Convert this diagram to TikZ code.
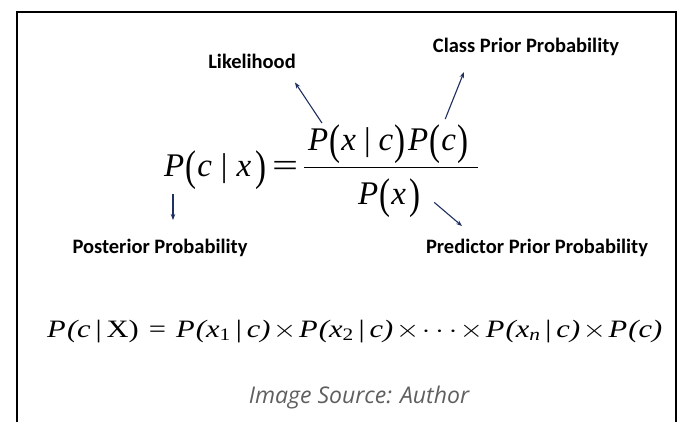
\documentclass[tikz,border=0pt]{standalone}
\usepackage{fontspec}
\usepackage{graphicx}
\setmainfont{Liberation Serif}
\newfontfamily\eqfont{Liberation Serif}
\newfontfamily\lblfont{Carlito}
\newfontfamily\srcfont{Open Sans}
\usetikzlibrary{arrows.meta,calc}
\definecolor{arrowblue}{HTML}{1F2F5F}
\definecolor{srcgray}{HTML}{5F5F5F}
\newcommand{\bp}[1]{\raisebox{-4pt}{\scalebox{1}[1.3]{\upshape#1}}}
\newcommand{\vb}{{\upshape|}}
\newcommand{\tms}{{\upshape$\times$}}
\tikzset{
  lbl/.style={font=\lblfont\bfseries\fontsize{20.5}{22}\selectfont, inner sep=0pt},
  bigeq/.style={font=\eqfont\fontsize{33}{36}\selectfont\itshape, inner sep=0pt, anchor=base west},
  smalleq/.style={font=\eqfont\fontsize{25}{30}\selectfont\itshape, inner sep=0pt, anchor=base west},
  pointer/.style={draw=arrowblue, line width=1.1pt, -{Stealth[length=6pt,width=4.5pt]}},
  src/.style={font=\srcfont\itshape\fontsize{23}{26}\selectfont, text=srcgray, inner sep=0pt}
}
\begin{document}
\begin{tikzpicture}[x=1pt,y=-1pt]
\useasboundingbox (0,0) rectangle (684,421);
% frame (open at the bottom)
\draw[line width=2pt] (16.5,425) -- (16.5,12) -- (675.5,12) -- (675.5,425);

% main formula
\node[bigeq] (lhs) at (164,176) {P\kern1pt\bp{(}\kern1pt c\kern9pt\vb\kern9pt x\kern4pt\bp{)}};
\node[font=\eqfont\fontsize{33}{36}\selectfont, inner sep=0pt, anchor=base west] (eq) at (272,176) {\scalebox{1.4}[1]{=}};
\node[bigeq] (num) at (308,150) {P\kern1pt\bp{(}\kern1pt x\kern8pt\vb\kern8pt c\kern1pt\bp{)}\kern3pt P\kern1pt\bp{(}\kern1pt c\kern1pt\bp{)}};
\draw[line width=1pt] (304,167.5) coordinate (barstart) -- (478,167.5) coordinate (barend);
\node[bigeq] (den) at (358,204) {P\kern1pt\bp{(}\kern1pt x\kern3pt\bp{)}};

% labels
\node[lbl] (like) at (252,61) {Likelihood};
\node[lbl] (prior) at (526,47) {Class Prior Probability};
\node[lbl] (post) at (160,248) {Posterior Probability};
\node[lbl] (pred) at (537,248) {Predictor Prior Probability};

% pointers
\draw[pointer] ($(num.north west)+(14,-1)$) -- ($(like.south)+(43,14)$);
\draw[pointer] ($(num.north east)+(-23,-5)$) -- ($(prior.south)+(-62,16)$);
\draw[pointer] ($(lhs.south west)+(9,5)$) -- ($(post.north)+(13,-19)$);
\draw[pointer] ($(den.south east)+(14,-15)$) -- ($(pred.north)+(-75,-13)$);

% naive Bayes formula
\node[smalleq] (nb) at (47,337) {\scalebox{1.22}[1]{P\kern1pt(c\kern4pt\vb\kern4pt\upshape X) \kern2pt= \kern2pt\itshape P\kern1pt(x\textsubscript{\upshape1}\kern4pt\vb\kern4pt c)\kern2pt\tms\kern2pt P\kern1pt(x\textsubscript{\upshape2}\kern4pt\vb\kern4pt c)\kern2pt\tms\kern2pt$\cdots$\kern2pt\tms\kern2pt P\kern1pt(x\textsubscript{n}\kern4pt\vb\kern4pt c)\kern2pt\tms\kern2pt P\kern1pt(c)}};

% source
\node[src] (source) at (359,398) {Image Source: Author};
\end{tikzpicture}
\end{document}
